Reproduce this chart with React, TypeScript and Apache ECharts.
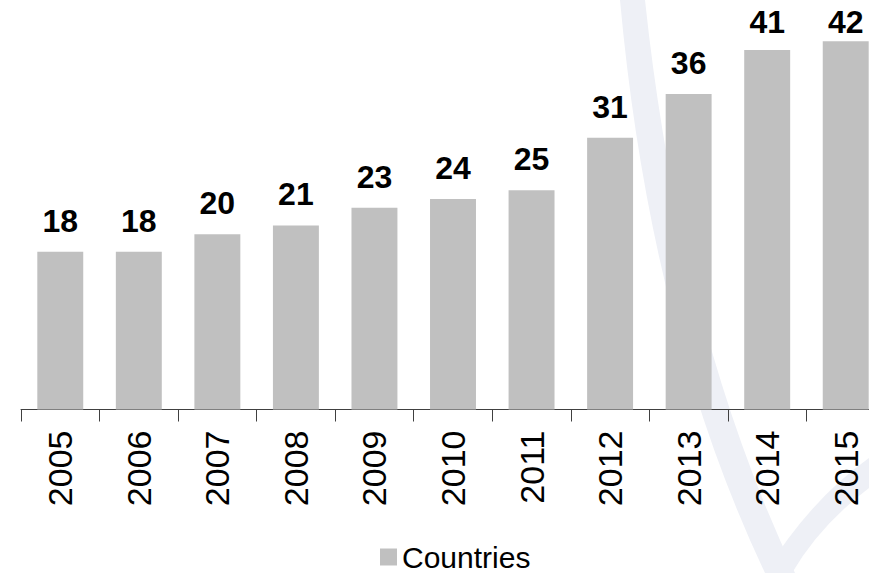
import React, { useEffect, useRef } from "react";
import * as echarts from "echarts";

const years = ["2005", "2006", "2007", "2008", "2009", "2010", "2011", "2012", "2013", "2014", "2015"];
const countries = [18, 18, 20, 21, 23, 24, 25, 31, 36, 41, 42];
const seriesName = "Countries";

echarts.graphic.registerShape(
  "swooshLeft",
  echarts.graphic.extendPath("M 620 0 L 645 0 Q 680 330 795 573 L 765 573 Q 650 330 620 0 Z", {})
);
echarts.graphic.registerShape(
  "swooshRight",
  echarts.graphic.extendPath("M 869 458 L 869 488 Q 820 525 792 573 L 765 573 Q 810 500 869 458 Z", {})
);

// layout of the plot
const GRID_TOP = 15;
const PLOT_HEIGHT = 394.5;
const Y_MAX = 45;
const NATURAL_DISTANCE = 15; // label box bottom above bar top
const MIN_BOX_TOP = 6; // labels are kept inside the plot top
const LABEL_BOX = 32;

function labelDistance(v: number) {
  const barTop = GRID_TOP + PLOT_HEIGHT - (v / Y_MAX) * PLOT_HEIGHT;
  const natural = barTop - NATURAL_DISTANCE - LABEL_BOX;
  if (natural >= MIN_BOX_TOP) return NATURAL_DISTANCE;
  return Math.max(0, barTop - MIN_BOX_TOP - LABEL_BOX);
}

export default function App() {
  const ref = useRef<HTMLDivElement>(null);
  useEffect(() => {
    if (!ref.current) return;
    const chart = echarts.init(ref.current, undefined, { renderer: "svg" });
    chart.setOption({
      animation: false,
      backgroundColor: "#ffffff",
      graphic: [
        { type: "swooshLeft", x: 0, y: 0, z: -10, silent: true, style: { fill: "#eef0f6", stroke: null, lineWidth: 0 } },
        { type: "swooshRight", x: 0, y: 0, z: -10, silent: true, style: { fill: "#eef0f6", stroke: null, lineWidth: 0 } },
      ],
      grid: {
        left: 21,
        top: GRID_TOP,
        width: 864,
        height: PLOT_HEIGHT,
        containLabel: false,
        outerBoundsMode: "none",
      },
      legend: {
        data: [seriesName],
        left: 375,
        top: 537,
        itemWidth: 17,
        itemHeight: 17,
        icon: "rect",
        textStyle: { fontFamily: "Liberation Sans, Arial, sans-serif", fontSize: 30, color: "#000" },
      },
      xAxis: {
        type: "category",
        data: years,
        axisLine: { lineStyle: { color: "#404040", width: 1 } },
        axisTick: { show: true, length: 12, lineStyle: { color: "#404040" } },
        axisLabel: {
          rotate: 90,
          margin: 21,
          fontSize: 34,
          color: "#000",
          fontFamily: "Liberation Sans, Arial, sans-serif",
        },
      },
      yAxis: {
        type: "value",
        min: 0,
        max: Y_MAX,
        show: false,
        splitLine: { show: false },
      },
      series: [
        {
          name: seriesName,
          type: "bar",
          data: countries.map((v) => ({ value: v, label: { distance: labelDistance(v) } })),
          barWidth: "58.5%",
          itemStyle: { color: "#c0c0c0" },
          label: {
            show: true,
            position: "top",
            fontSize: 32,
            fontWeight: "bold",
            color: "#000",
            fontFamily: "Liberation Sans, Arial, sans-serif",
          },
        },
      ],
    });
    return () => chart.dispose();
  }, []);
  return <div ref={ref} style={{ position: "fixed", left: 0, top: 0, width: 869, height: 573 }} />;
}
